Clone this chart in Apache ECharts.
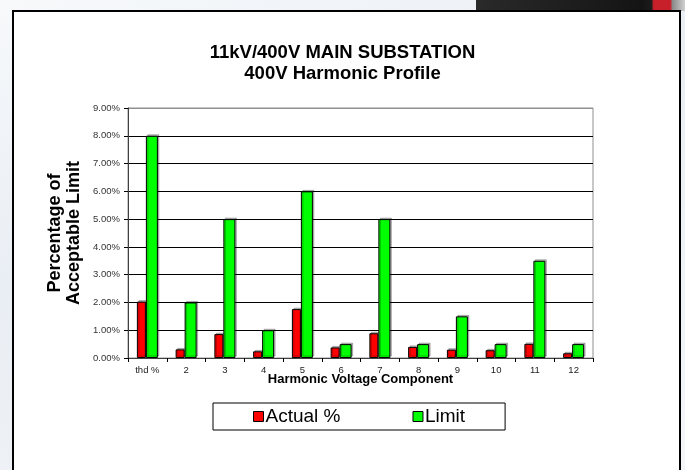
<!DOCTYPE html>
<html>
<head>
<meta charset="utf-8">
<script src="https://cdn.jsdelivr.net/npm/echarts@6/dist/echarts.min.js"></script>
<style>
    html, body { margin: 0; padding: 0; }
    body { background: linear-gradient(160deg, #f7f9fb 0%, #e9eef4 40%, #f4f6f8 100%); }
    #chart { width: 685px; height: 470px; }
</style>
</head>
<body>
<div id="chart"></div>
<script>
// harmonic components along the x axis
var categories = ['thd %', '2', '3', '4', '5', '6', '7', '8', '9', '10', '11', '12'];
// measured values, % of fundamental
var actual = [2.03, 0.31, 0.86, 0.24, 1.76, 0.38, 0.89, 0.40, 0.30, 0.28, 0.51, 0.17];
// acceptable limits, %
var limit = [8, 2, 5, 1, 6, 0.5, 5, 0.5, 1.5, 0.5, 3.5, 0.5];

var font = 'Liberation Sans, Arial, sans-serif';
var myChart = echarts.init(document.getElementById('chart'));

var option = {
    backgroundColor: 'transparent',
    animation: false,
    title: {
        text: '11kV/400V MAIN SUBSTATION\n400V Harmonic Profile',
        left: 'center',
        top: 37,
        textStyle: {
            fontFamily: font,
            fontSize: 18.5,
            fontWeight: 'bold',
            color: '#000',
            lineHeight: 21
        }
    },
    graphic: [{
        // page frame
        type: 'rect',
        z: -10,
        shape: { x: 13, y: 11, width: 667, height: 470 },
        style: { fill: '#fff', stroke: '#000', lineWidth: 2 }
    }, {
        // dark strip top right
        type: 'rect',
        z: -11,
        shape: { x: 476, y: 0, width: 209, height: 11 },
        style: {
            fill: {
                type: 'linear', x: 0, y: 0, x2: 1, y2: 0,
                colorStops: [
                    { offset: 0, color: '#2a2a2a' },
                    { offset: 0.8, color: '#141414' },
                    { offset: 0.84, color: '#1c1c1c' },
                    { offset: 0.85, color: '#c8202a' },
                    { offset: 0.93, color: '#c8202a' },
                    { offset: 0.94, color: '#8a8a8a' },
                    { offset: 1, color: '#d0d0d0' }
                ]
            }
        }
    }],
    legend: {
        left: 213,
        top: 403,
        padding: [4, 40, 4, 40],
        itemGap: 72,
        itemWidth: 10,
        itemHeight: 10,
        icon: 'rect',
        borderColor: '#000',
        borderWidth: 1,
        backgroundColor: '#fff',
        itemStyle: { borderColor: '#000', borderWidth: 1, shadowBlur: 0, shadowOffsetX: 0, shadowOffsetY: 0 },
        textStyle: { fontFamily: font, fontSize: 19, color: '#000', padding: [0, 0, 0, -3] },
        data: ['Actual %', 'Limit']
    },
    grid: {
        left: 128,
        right: 92,
        top: 108,
        bottom: 112,
        show: true,
        borderColor: '#909090',
        borderWidth: 1,
        backgroundColor: '#fff'
    },
    xAxis: {
        type: 'category',
        data: categories,
        name: 'Harmonic Voltage Component',
        nameLocation: 'middle',
        nameGap: 15,
        nameMoveOverlap: false,
        nameTextStyle: { fontFamily: font, fontSize: 13, fontWeight: 'bold', color: '#000' },
        axisLine: { lineStyle: { color: '#404040', width: 1 } },
        axisTick: { show: true, inside: false, length: 4, lineStyle: { color: '#000' } },
        axisLabel: { fontFamily: font, fontSize: 9.5, color: '#222', margin: 7 }
    },
    yAxis: {
        type: 'value',
        min: 0,
        max: 9,
        interval: 1,
        name: 'Percentage of\nAcceptable Limit',
        nameLocation: 'middle',
        nameRotate: 90,
        nameGap: 44,
        nameMoveOverlap: false,
        nameTextStyle: { fontFamily: font, fontSize: 18, fontWeight: 'bold', color: '#000', lineHeight: 19 },
        axisLine: { show: true, lineStyle: { color: '#404040', width: 1 } },
        axisTick: { show: true, inside: false, length: 4, lineStyle: { color: '#000' } },
        axisLabel: {
            fontFamily: font,
            fontSize: 9.5,
            color: '#333',
            margin: 8,
            formatter: function (v) { return v.toFixed(2) + '%'; }
        },
        splitLine: {
            show: true,
            lineStyle: {
                color: ['#000', '#000', '#000', '#000', '#000', '#000', '#000', '#000', '#000', '#909090'],
                width: 1
            }
        }
    },
    series: [{
        name: 'Actual %',
        type: 'bar',
        data: actual,
        barWidth: 9,
        barGap: '0%',
        itemStyle: {
            color: '#ff0000',
            borderColor: '#000',
            borderWidth: 1,
            shadowColor: 'rgba(0,0,0,0.25)',
            shadowOffsetX: 1.5,
            shadowOffsetY: -1.5
        }
    }, {
        name: 'Limit',
        type: 'bar',
        data: limit,
        barWidth: 12,
        barGap: '0%',
        itemStyle: {
            color: '#00ff00',
            borderColor: '#000',
            borderWidth: 1,
            shadowColor: 'rgba(0,0,0,0.25)',
            shadowOffsetX: 1.5,
            shadowOffsetY: -1.5
        }
    }]
};

myChart.setOption(option);
</script>
</body>
</html>
